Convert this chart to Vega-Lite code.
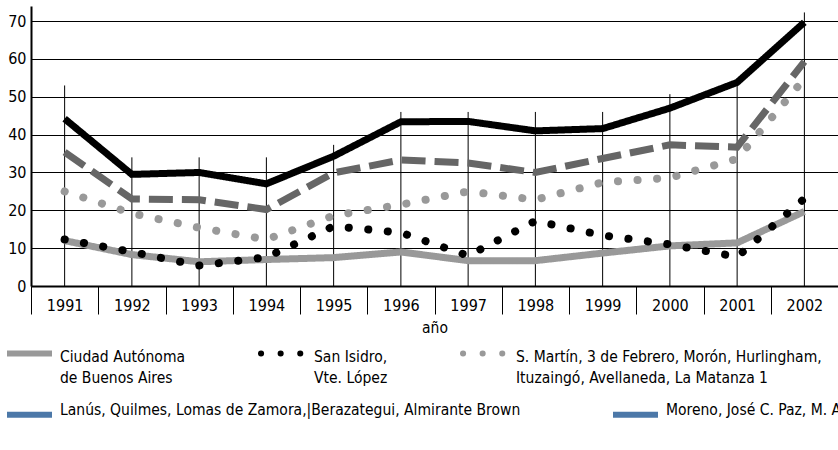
{
  "$schema": "https://vega.github.io/schema/vega-lite/v6.json",
  "width": 807,
  "height": 280,
  "autosize": "none",
  "padding": {"left": 31, "top": 6, "right": 0, "bottom": 164},
  "background": "white",
  "config": {
    "font": "DejaVu Sans Condensed, sans-serif",
    "view": {"stroke": null}
  },
  "datasets": {
    "series": [
      {"year": 1991, "serie": "Ciudad Autónoma|de Buenos Aires", "value": 12},
      {"year": 1992, "serie": "Ciudad Autónoma|de Buenos Aires", "value": 8.3},
      {"year": 1993, "serie": "Ciudad Autónoma|de Buenos Aires", "value": 6.4},
      {"year": 1994, "serie": "Ciudad Autónoma|de Buenos Aires", "value": 7},
      {"year": 1995, "serie": "Ciudad Autónoma|de Buenos Aires", "value": 7.5},
      {"year": 1996, "serie": "Ciudad Autónoma|de Buenos Aires", "value": 9},
      {"year": 1997, "serie": "Ciudad Autónoma|de Buenos Aires", "value": 6.7},
      {"year": 1998, "serie": "Ciudad Autónoma|de Buenos Aires", "value": 6.7},
      {"year": 1999, "serie": "Ciudad Autónoma|de Buenos Aires", "value": 8.7},
      {"year": 2000, "serie": "Ciudad Autónoma|de Buenos Aires", "value": 10.6},
      {"year": 2001, "serie": "Ciudad Autónoma|de Buenos Aires", "value": 11.4},
      {"year": 2002, "serie": "Ciudad Autónoma|de Buenos Aires", "value": 19.7},
      {"year": 1991, "serie": "San Isidro,|Vte. López", "value": 12.3},
      {"year": 1992, "serie": "San Isidro,|Vte. López", "value": 9},
      {"year": 1993, "serie": "San Isidro,|Vte. López", "value": 5.4},
      {"year": 1994, "serie": "San Isidro,|Vte. López", "value": 7.6},
      {"year": 1995, "serie": "San Isidro,|Vte. López", "value": 15.8},
      {"year": 1996, "serie": "San Isidro,|Vte. López", "value": 14.1},
      {"year": 1997, "serie": "San Isidro,|Vte. López", "value": 8},
      {"year": 1998, "serie": "San Isidro,|Vte. López", "value": 17.2},
      {"year": 1999, "serie": "San Isidro,|Vte. López", "value": 13.4},
      {"year": 2000, "serie": "San Isidro,|Vte. López", "value": 11},
      {"year": 2001, "serie": "San Isidro,|Vte. López", "value": 7.7},
      {"year": 2002, "serie": "San Isidro,|Vte. López", "value": 23.1},
      {"year": 1991, "serie": "S. Martín, 3 de Febrero, Morón, Hurlingham,|Ituzaingó, Avellaneda, La Matanza 1", "value": 25},
      {"year": 1992, "serie": "S. Martín, 3 de Febrero, Morón, Hurlingham,|Ituzaingó, Avellaneda, La Matanza 1", "value": 19.2},
      {"year": 1993, "serie": "S. Martín, 3 de Febrero, Morón, Hurlingham,|Ituzaingó, Avellaneda, La Matanza 1", "value": 15.4},
      {"year": 1994, "serie": "S. Martín, 3 de Febrero, Morón, Hurlingham,|Ituzaingó, Avellaneda, La Matanza 1", "value": 12.3},
      {"year": 1995, "serie": "S. Martín, 3 de Febrero, Morón, Hurlingham,|Ituzaingó, Avellaneda, La Matanza 1", "value": 18.6},
      {"year": 1996, "serie": "S. Martín, 3 de Febrero, Morón, Hurlingham,|Ituzaingó, Avellaneda, La Matanza 1", "value": 21.5},
      {"year": 1997, "serie": "S. Martín, 3 de Febrero, Morón, Hurlingham,|Ituzaingó, Avellaneda, La Matanza 1", "value": 25},
      {"year": 1998, "serie": "S. Martín, 3 de Febrero, Morón, Hurlingham,|Ituzaingó, Avellaneda, La Matanza 1", "value": 22.8},
      {"year": 1999, "serie": "S. Martín, 3 de Febrero, Morón, Hurlingham,|Ituzaingó, Avellaneda, La Matanza 1", "value": 27.4},
      {"year": 2000, "serie": "S. Martín, 3 de Febrero, Morón, Hurlingham,|Ituzaingó, Avellaneda, La Matanza 1", "value": 28.6},
      {"year": 2001, "serie": "S. Martín, 3 de Febrero, Morón, Hurlingham,|Ituzaingó, Avellaneda, La Matanza 1", "value": 33.6},
      {"year": 2002, "serie": "S. Martín, 3 de Febrero, Morón, Hurlingham,|Ituzaingó, Avellaneda, La Matanza 1", "value": 54.8},
      {"year": 1991, "serie": "Lanús, Quilmes, Lomas de Zamora,|Berazategui, Almirante Brown", "value": 35.4},
      {"year": 1992, "serie": "Lanús, Quilmes, Lomas de Zamora,|Berazategui, Almirante Brown", "value": 23},
      {"year": 1993, "serie": "Lanús, Quilmes, Lomas de Zamora,|Berazategui, Almirante Brown", "value": 22.8},
      {"year": 1994, "serie": "Lanús, Quilmes, Lomas de Zamora,|Berazategui, Almirante Brown", "value": 20.2},
      {"year": 1995, "serie": "Lanús, Quilmes, Lomas de Zamora,|Berazategui, Almirante Brown", "value": 29.9},
      {"year": 1996, "serie": "Lanús, Quilmes, Lomas de Zamora,|Berazategui, Almirante Brown", "value": 33.3},
      {"year": 1997, "serie": "Lanús, Quilmes, Lomas de Zamora,|Berazategui, Almirante Brown", "value": 32.5},
      {"year": 1998, "serie": "Lanús, Quilmes, Lomas de Zamora,|Berazategui, Almirante Brown", "value": 30},
      {"year": 1999, "serie": "Lanús, Quilmes, Lomas de Zamora,|Berazategui, Almirante Brown", "value": 33.7},
      {"year": 2000, "serie": "Lanús, Quilmes, Lomas de Zamora,|Berazategui, Almirante Brown", "value": 37.3},
      {"year": 2001, "serie": "Lanús, Quilmes, Lomas de Zamora,|Berazategui, Almirante Brown", "value": 36.7},
      {"year": 2002, "serie": "Lanús, Quilmes, Lomas de Zamora,|Berazategui, Almirante Brown", "value": 59.3},
      {"year": 1991, "serie": "Moreno, José C. Paz, M. Argentinas, S. Miguel, Merlo,|Tigre, F. Varela, E. Echeverría, Ezeiza, La Matanza 2", "value": 44.2},
      {"year": 1992, "serie": "Moreno, José C. Paz, M. Argentinas, S. Miguel, Merlo,|Tigre, F. Varela, E. Echeverría, Ezeiza, La Matanza 2", "value": 29.5},
      {"year": 1993, "serie": "Moreno, José C. Paz, M. Argentinas, S. Miguel, Merlo,|Tigre, F. Varela, E. Echeverría, Ezeiza, La Matanza 2", "value": 30},
      {"year": 1994, "serie": "Moreno, José C. Paz, M. Argentinas, S. Miguel, Merlo,|Tigre, F. Varela, E. Echeverría, Ezeiza, La Matanza 2", "value": 27},
      {"year": 1995, "serie": "Moreno, José C. Paz, M. Argentinas, S. Miguel, Merlo,|Tigre, F. Varela, E. Echeverría, Ezeiza, La Matanza 2", "value": 34.3},
      {"year": 1996, "serie": "Moreno, José C. Paz, M. Argentinas, S. Miguel, Merlo,|Tigre, F. Varela, E. Echeverría, Ezeiza, La Matanza 2", "value": 43.4},
      {"year": 1997, "serie": "Moreno, José C. Paz, M. Argentinas, S. Miguel, Merlo,|Tigre, F. Varela, E. Echeverría, Ezeiza, La Matanza 2", "value": 43.5},
      {"year": 1998, "serie": "Moreno, José C. Paz, M. Argentinas, S. Miguel, Merlo,|Tigre, F. Varela, E. Echeverría, Ezeiza, La Matanza 2", "value": 41},
      {"year": 1999, "serie": "Moreno, José C. Paz, M. Argentinas, S. Miguel, Merlo,|Tigre, F. Varela, E. Echeverría, Ezeiza, La Matanza 2", "value": 41.6},
      {"year": 2000, "serie": "Moreno, José C. Paz, M. Argentinas, S. Miguel, Merlo,|Tigre, F. Varela, E. Echeverría, Ezeiza, La Matanza 2", "value": 47},
      {"year": 2001, "serie": "Moreno, José C. Paz, M. Argentinas, S. Miguel, Merlo,|Tigre, F. Varela, E. Echeverría, Ezeiza, La Matanza 2", "value": 53.8},
      {"year": 2002, "serie": "Moreno, José C. Paz, M. Argentinas, S. Miguel, Merlo,|Tigre, F. Varela, E. Echeverría, Ezeiza, La Matanza 2", "value": 69.7}
    ],
    "guias": [
      {"year": 1991, "value": 53},
      {"year": 1992, "value": 34},
      {"year": 1993, "value": 34},
      {"year": 1994, "value": 34},
      {"year": 1995, "value": 37.3},
      {"year": 1996, "value": 46},
      {"year": 1997, "value": 46},
      {"year": 1998, "value": 46},
      {"year": 1999, "value": 46},
      {"year": 2000, "value": 50.7},
      {"year": 2001, "value": 54},
      {"year": 2002, "value": 72.3}
    ]
  },
  "encoding": {
    "x": {
      "field": "year", "type": "ordinal",
      "axis": {
        "title": "año", "titleFontSize": 15.5, "titleFontWeight": "normal", "titleColor": "black", "titlePadding": 6,
        "labelAngle": 0, "labelFontSize": 16, "labelColor": "black", "labelBaseline": "top", "labelPadding": -17,
        "tickBand": "extent", "tickSize": 28, "tickColor": "black", "tickWidth": 1,
        "domainColor": "black", "domainWidth": 2, "grid": false
      }
    },
    "y": {
      "field": "value", "type": "quantitative",
      "scale": {"domain": [0, 74], "nice": false},
      "axis": {
        "title": null, "values": [0, 10, 20, 30, 40, 50, 60, 70], "tickCount": 8,
        "grid": true, "gridColor": "black", "gridWidth": 1, "gridOpacity": 1,
        "ticks": false, "domainColor": "black", "domainWidth": 2,
        "labelFontSize": 16, "labelColor": "black", "labelPadding": 5, "labelOverlap": false
      }
    }
  },
  "layer": [
    {
      "data": {"name": "guias"},
      "mark": {"type": "rule", "color": "black", "strokeWidth": 1},
      "encoding": {
        "y2": {"datum": 0}
      }
    },
    {
      "data": {"name": "series"},
      "transform": [{"filter": {"field": "serie", "oneOf": ["Lanús, Quilmes, Lomas de Zamora,|Berazategui, Almirante Brown", "Moreno, José C. Paz, M. Argentinas, S. Miguel, Merlo,|Tigre, F. Varela, E. Echeverría, Ezeiza, La Matanza 2"]}}],
      "mark": {"type": "line", "strokeWidth": 0},
      "encoding": {
        "opacity": {
          "field": "serie", "type": "nominal",
          "scale": {
            "type": "ordinal",
            "domain": ["Lanús, Quilmes, Lomas de Zamora,|Berazategui, Almirante Brown", "Moreno, José C. Paz, M. Argentinas, S. Miguel, Merlo,|Tigre, F. Varela, E. Echeverría, Ezeiza, La Matanza 2"],
            "range": [1, 1]
          },
          "legend": {
            "values": ["Lanús, Quilmes, Lomas de Zamora,|Berazategui, Almirante Brown", "Moreno, José C. Paz, M. Argentinas, S. Miguel, Merlo,|Tigre, F. Varela, E. Echeverría, Ezeiza, La Matanza 2"],
            "orient": "none", "legendX": -27, "legendY": 383, "direction": "horizontal",
            "columns": 2, "columnPadding": 80, "rowPadding": 15,
            "title": null, "symbolType": "stroke", "symbolSize": 2025, "symbolStrokeWidth": 6,
            "labelFontSize": 15.5, "labelColor": "black", "labelLimit": 700, "labelOffset": 5,
            "labelBaseline": "alphabetic",
            "encode": {
              "symbols": {
                "update": {
                  "stroke": {"signal": "scale('color', datum.value)"},
                  "strokeCap": {"value": "butt"},
                  "strokeWidth": {"value": 6},
                  "strokeOpacity": {"value": 1},
                  "opacity": {"value": 1}
                }
              },
              "labels": {
                "update": {
                  "lineBreak": {"value": "|"},
                  "dy": {"value": 8},
                  "lineHeight": {"value": 21}
                }
              }
            }
          }
        }
      }
    },
    {
      "data": {"name": "series"},
      "transform": [{"filter": {"field": "serie", "oneOf": ["Ciudad Autónoma|de Buenos Aires"]}}],
      "mark": {"type": "line", "strokeWidth": 7, "strokeCap": "butt"},
      "encoding": {
        "color": {
          "field": "serie", "type": "nominal",
          "scale": {
            "domain": ["Ciudad Autónoma|de Buenos Aires", "San Isidro,|Vte. López", "S. Martín, 3 de Febrero, Morón, Hurlingham,|Ituzaingó, Avellaneda, La Matanza 1", "Lanús, Quilmes, Lomas de Zamora,|Berazategui, Almirante Brown", "Moreno, José C. Paz, M. Argentinas, S. Miguel, Merlo,|Tigre, F. Varela, E. Echeverría, Ezeiza, La Matanza 2"],
            "range": ["#999999", "#000000", "#999999", "#666666", "#000000"]
          },
          "legend": {
            "values": ["Ciudad Autónoma|de Buenos Aires", "San Isidro,|Vte. López", "S. Martín, 3 de Febrero, Morón, Hurlingham,|Ituzaingó, Avellaneda, La Matanza 1"],
            "orient": "none", "legendX": -27, "legendY": 322, "direction": "horizontal",
            "columns": 3, "columnPadding": 63, "rowPadding": 15,
            "title": null, "symbolType": "stroke", "symbolSize": 2025, "symbolStrokeWidth": 6,
            "labelFontSize": 15.5, "labelColor": "black", "labelLimit": 700, "labelOffset": 5,
            "labelBaseline": "alphabetic",
            "encode": {
              "symbols": {
                "update": {
                  "strokeDash": {"signal": "(indexof(datum.value, 'San Isidro') === 0 || indexof(datum.value, 'S. Martín') === 0) ? [0.1, 19.5] : [1, 0]"},
                  "strokeCap": {"signal": "(indexof(datum.value, 'San Isidro') === 0 || indexof(datum.value, 'S. Martín') === 0) ? 'round' : 'butt'"},
                  "strokeWidth": {"value": 6}
                }
              },
              "labels": {
                "update": {
                  "lineBreak": {"value": "|"},
                  "dy": {"value": 8},
                  "lineHeight": {"value": 21}
                }
              }
            }
          }
        },
        "strokeDash": {
          "field": "serie", "type": "nominal",
          "scale": {
            "domain": ["Ciudad Autónoma|de Buenos Aires", "San Isidro,|Vte. López", "S. Martín, 3 de Febrero, Morón, Hurlingham,|Ituzaingó, Avellaneda, La Matanza 1", "Lanús, Quilmes, Lomas de Zamora,|Berazategui, Almirante Brown", "Moreno, José C. Paz, M. Argentinas, S. Miguel, Merlo,|Tigre, F. Varela, E. Echeverría, Ezeiza, La Matanza 2"],
            "range": [[1, 0], [0.1, 19.5], [0.1, 19.5], [24, 9], [1, 0]]
          },
          "legend": null
        }
      }
    },
    {
      "data": {"name": "series"},
      "transform": [{"filter": {"field": "serie", "oneOf": ["San Isidro,|Vte. López", "S. Martín, 3 de Febrero, Morón, Hurlingham,|Ituzaingó, Avellaneda, La Matanza 1"]}}],
      "mark": {"type": "line", "strokeWidth": 8, "strokeCap": "round"},
      "encoding": {
        "color": {"field": "serie", "type": "nominal"},
        "strokeDash": {"field": "serie", "type": "nominal", "legend": null}
      }
    },
    {
      "data": {"name": "series"},
      "transform": [{"filter": {"field": "serie", "oneOf": ["Lanús, Quilmes, Lomas de Zamora,|Berazategui, Almirante Brown", "Moreno, José C. Paz, M. Argentinas, S. Miguel, Merlo,|Tigre, F. Varela, E. Echeverría, Ezeiza, La Matanza 2"]}}],
      "mark": {"type": "line", "strokeWidth": 7, "strokeCap": "butt"},
      "encoding": {
        "color": {"field": "serie", "type": "nominal"},
        "strokeDash": {"field": "serie", "type": "nominal", "legend": null}
      }
    }
  ]
}
